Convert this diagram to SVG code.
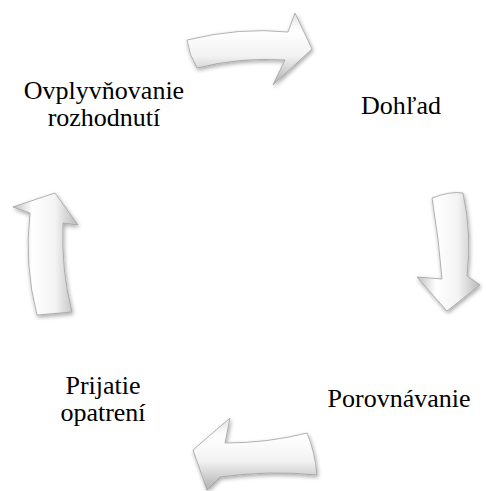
<svg xmlns="http://www.w3.org/2000/svg" width="486" height="491" viewBox="0 0 486 491">
<defs>
<linearGradient id="gv" x1="0" y1="0" x2="0" y2="1">
<stop offset="0" stop-color="#e2e2e2"/>
<stop offset="0.25" stop-color="#ffffff"/>
<stop offset="0.6" stop-color="#f2f2f2"/>
<stop offset="1" stop-color="#b0b0b0"/>
</linearGradient>
<linearGradient id="gh" x1="0" y1="0" x2="1" y2="0">
<stop offset="0" stop-color="#c0c0c0"/>
<stop offset="0.3" stop-color="#ffffff"/>
<stop offset="0.65" stop-color="#f3f3f3"/>
<stop offset="1" stop-color="#b8b8b8"/>
</linearGradient>
<filter id="sh" x="-20%" y="-20%" width="140%" height="140%">
<feGaussianBlur in="SourceAlpha" stdDeviation="2"/>
<feOffset dx="1" dy="2" result="b"/>
<feComponentTransfer><feFuncA type="linear" slope="0.35"/></feComponentTransfer>
<feMerge><feMergeNode/><feMergeNode in="SourceGraphic"/></feMerge>
</filter>
</defs>
<style>
.arr{stroke:#a0a0a0;stroke-width:0.8;stroke-linejoin:round;filter:url(#sh)}
.lbl{font-family:"Liberation Serif","Times New Roman",serif;font-size:26px;fill:#000;text-anchor:middle}
</style>
<g id="connectors">
<path class="arr" fill="url(#gv)" d="M187,40 Q240,27 288,32 L295,13 L312,49 L273,85 L285,60 Q240,57 197,68 Q189,55 187,40 Z"/>
<path class="arr" fill="url(#gh)" d="M432,198 Q450,191 463,193 Q472,235 467,276 L480,285 L447,311 L417,277 L442,279 Q439,240 432,198 Z"/>
<path class="arr" fill="url(#gv)" d="M307,433 Q268,443 225,443 L230,418 L193,450 L207,490 L220,477 Q270,470 317,475 Q315,452 307,433 Z"/>
<path class="arr" fill="url(#gh)" d="M55,193 L78,225 L63,223 Q61,270 72,312 L37,315 Q24,265 30,213 L13,207 Z"/>
</g>
<g id="node-dohlad"><text class="lbl" x="401" y="114">Dohľad</text></g>
<g id="node-porovnavanie"><text class="lbl" x="399" y="407">Porovnávanie</text></g>
<g id="node-prijatie"><text class="lbl" x="103" y="394">Prijatie</text><text class="lbl" x="103" y="421">opatrení</text></g>
<g id="node-ovplyvnovanie"><text class="lbl" x="104" y="99">Ovplyvňovanie</text><text class="lbl" x="104" y="126">rozhodnutí</text></g>
</svg>
